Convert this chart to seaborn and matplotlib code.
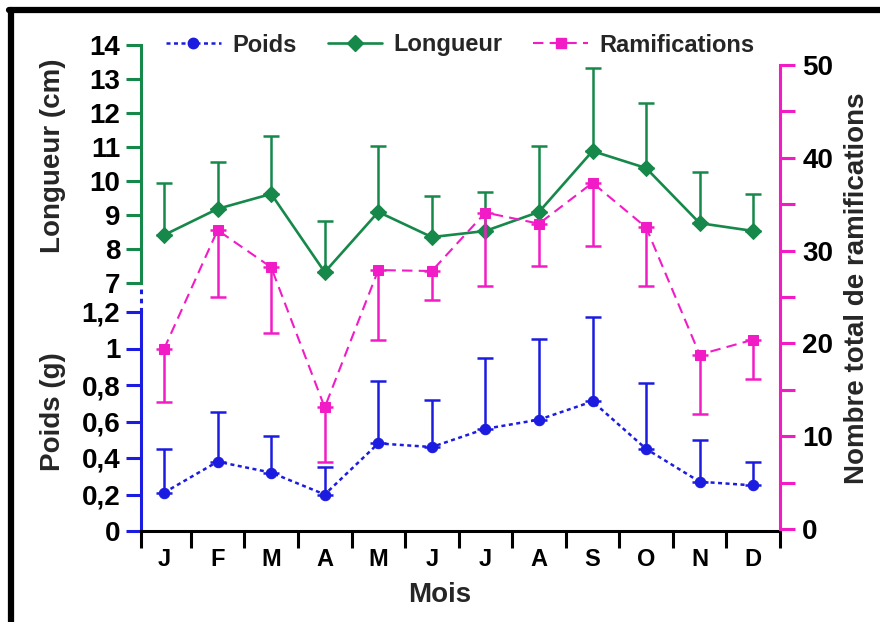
"""
Poids, longueur et ramifications par mois (moyenne + écart-type)
"""
import numpy as np
import pandas as pd
import matplotlib

matplotlib.use("Agg")
import matplotlib.pyplot as plt
import seaborn as sns
from matplotlib.lines import Line2D
from matplotlib.ticker import FixedLocator, FuncFormatter

# ===================== données =====================
mois = ["J", "F", "M", "A", "M", "J", "J", "A", "S", "O", "N", "D"]

poids = [0.21, 0.38, 0.32, 0.20, 0.48, 0.46, 0.56, 0.61, 0.71, 0.45, 0.27, 0.25]
poids_sd = [0.24, 0.27, 0.20, 0.15, 0.34, 0.26, 0.39, 0.44, 0.46, 0.36, 0.23, 0.13]

longueur = [8.41, 9.18, 9.62, 7.32, 9.09, 8.35, 8.53, 9.09, 10.88, 10.38, 8.76, 8.53]
longueur_sd = [1.53, 1.38, 1.70, 1.50, 1.94, 1.21, 1.15, 1.94, 2.44, 1.91, 1.50, 1.09]

ramif = [19.4, 32.2, 28.2, 13.1, 27.9, 27.8, 34.1, 32.9, 37.3, 32.5, 18.8, 20.4]
ramif_sd = [5.7, 7.2, 7.1, 5.9, 7.5, 3.1, 7.9, 4.6, 6.8, 6.3, 6.4, 4.2]

df = pd.DataFrame({
    "pos": np.arange(len(mois)),
    "poids": poids,
    "longueur": longueur,
    "ramif": ramif,
})

BLEU = "#1c1ce0"
VERT = "#16884a"
ROSE = "#f21cc6"

sns.set_theme(style="white")
plt.rcParams['font.family'] = ['Liberation Sans', 'DejaVu Sans']
plt.rcParams['font.weight'] = 'bold'

fig = plt.figure(figsize=(8.8, 6.22), dpi=100)
W, H = 880, 622
ax_p = fig.add_axes([141 / W, 1 - 531 / H, 639 / W, 486 / H])
ax_l = ax_p.twinx()
ax_r = ax_p.twinx()

x0, x1 = -0.43, 11.5

# ===================== courbes =====================
sty_p = dict(color=BLEU, linestyle=(0, (1.6, 1.4)), linewidth=1.8, marker="o",
             markersize=7.5, markeredgecolor=BLEU)
sty_l = dict(color=VERT, linestyle="-", linewidth=1.9, marker="D",
             markersize=8, markeredgecolor=VERT)
sty_r = dict(color=ROSE, linestyle=(0, (5, 3)), linewidth=1.5, marker="s",
             markersize=7, markeredgecolor=ROSE)

sns.lineplot(data=df, x="pos", y="poids", ax=ax_p, legend=False, **sty_p)
ax_p.errorbar(df["pos"], poids, yerr=[np.zeros(12), poids_sd], fmt="none",
              ecolor=BLEU, elinewidth=1.8, capsize=5.5, capthick=1.8)

sns.lineplot(data=df, x="pos", y="ramif", ax=ax_r, legend=False, **sty_r)
ax_r.errorbar(df["pos"], ramif, yerr=[ramif_sd, np.zeros(12)], fmt="none",
              ecolor=ROSE, elinewidth=1.8, capsize=5.5, capthick=1.8)

sns.lineplot(data=df, x="pos", y="longueur", ax=ax_l, legend=False, **sty_l)
ax_l.errorbar(df["pos"], longueur, yerr=[np.zeros(12), longueur_sd], fmt="none",
              ecolor=VERT, elinewidth=1.8, capsize=5.5, capthick=1.8)

# ===================== axes =====================
virgule = FuncFormatter(lambda v, p: f"{v:g}".replace(".", ","))

# Poids (bas gauche)
ax_p.set_xlim(x0, x1)
ax_p.set_ylim(0, 486 / 182.5)
ax_p.set_yticks([0, 0.2, 0.4, 0.6, 0.8, 1.0, 1.2])
ax_p.yaxis.set_major_formatter(virgule)
for s in ["top", "right"]:
    ax_p.spines[s].set_visible(False)
ax_p.spines["left"].set_color(BLEU)
ax_p.spines["left"].set_linewidth(2.2)
ax_p.spines["left"].set_bounds(0, 1.2)
ax_p.spines["bottom"].set_color("black")
ax_p.spines["bottom"].set_linewidth(2.2)
ax_p.tick_params(axis="y", left=True, direction="out", length=11, width=2.2,
                 color=BLEU, labelsize=20, pad=4, labelcolor="black")
# petit raccord pointillé entre les deux échelles de gauche
ax_p.plot([0, 0], [1.2, 1.36], transform=ax_p.get_yaxis_transform(), clip_on=False,
          color=BLEU, linewidth=2.2, linestyle=(0, (1.5, 1.5)))

# mois
ax_p.set_xticks(df["pos"])
ax_p.set_xticklabels(mois)
ax_p.xaxis.set_minor_locator(FixedLocator([x0] + [i + 0.5 for i in range(12)]))
ax_p.tick_params(axis="x", which="major", bottom=True, length=0, labelsize=17,
                 pad=12, labelcolor="black")
ax_p.tick_params(axis="x", which="minor", bottom=True, direction="out", length=12,
                 width=2.2, color="black")
ax_p.set_xlabel("")
ax_p.set_ylabel("")

# Longueur (haut gauche)
ax_l.set_ylim(14 - 486 / 34, 14)
ax_l.set_yticks(range(7, 15))
ax_l.yaxis.tick_left()
for s in ["top", "right", "bottom"]:
    ax_l.spines[s].set_visible(False)
ax_l.spines["left"].set_color(VERT)
ax_l.spines["left"].set_linewidth(2.2)
ax_l.spines["left"].set_bounds(7, 14)
ax_l.tick_params(axis="y", left=True, right=False, direction="out", length=11,
                 width=2.2, color=VERT, labelsize=20, pad=4, labelcolor="black")
ax_l.set_ylabel("")

# Ramifications (droite)
ax_r.set_ylim(-2 / 9.28, 50 + 20 / 9.28)
ax_r.yaxis.set_major_locator(FixedLocator([0, 10, 20, 30, 40, 50]))
ax_r.yaxis.set_minor_locator(FixedLocator([5, 15, 25, 35, 45]))
for s in ["top", "left", "bottom"]:
    ax_r.spines[s].set_visible(False)
ax_r.spines["right"].set_color(ROSE)
ax_r.spines["right"].set_linewidth(2.2)
ax_r.spines["right"].set_bounds(0, 50)
ax_r.tick_params(axis="y", which="both", right=True, left=False, direction="out",
                 length=11, width=2.2, color=ROSE, labelsize=20, pad=5,
                 labelcolor="black")
ax_r.set_ylabel("")

# titres des axes
fig.text(53 / W, 1 - 156 / H, "Longueur (cm)", rotation=90, ha="center",
         va="center", fontsize=20, fontweight="bold")
fig.text(53 / W, 1 - 412 / H, "Poids (g)", rotation=90, ha="center",
         va="center", fontsize=20, fontweight="bold")
fig.text(857 / W, 1 - 288 / H, "Nombre total de ramifications", rotation=90,
         ha="center", va="center", fontsize=20, fontweight="bold")
fig.text(440 / W, 1 - 595 / H, "Mois", ha="center", va="center",
         fontsize=20, fontweight="bold")

# légende
handles = [Line2D([], [], **sty_p), Line2D([], [], **sty_l), Line2D([], [], **sty_r)]
leg = ax_r.legend(handles, ["Poids", "Longueur", "Ramifications"], ncol=3,
                  loc="center", bbox_to_anchor=(0.5, 1.0), frameon=False,
                  fontsize=17, handlelength=2.3, handletextpad=0.5,
                  columnspacing=1.3, numpoints=1)
for t in leg.get_texts():
    t.set_fontweight("bold")

# cadre noir (haut et gauche)
fig.add_artist(Line2D([11 / W, 11 / W], [0, 1 - 10 / H], color="black",
                      linewidth=4.5, transform=fig.transFigure))
fig.add_artist(Line2D([9 / W, 1], [1 - 10 / H, 1 - 10 / H], color="black",
                      linewidth=4.5, transform=fig.transFigure))

fig.savefig("out.png", dpi=100)
